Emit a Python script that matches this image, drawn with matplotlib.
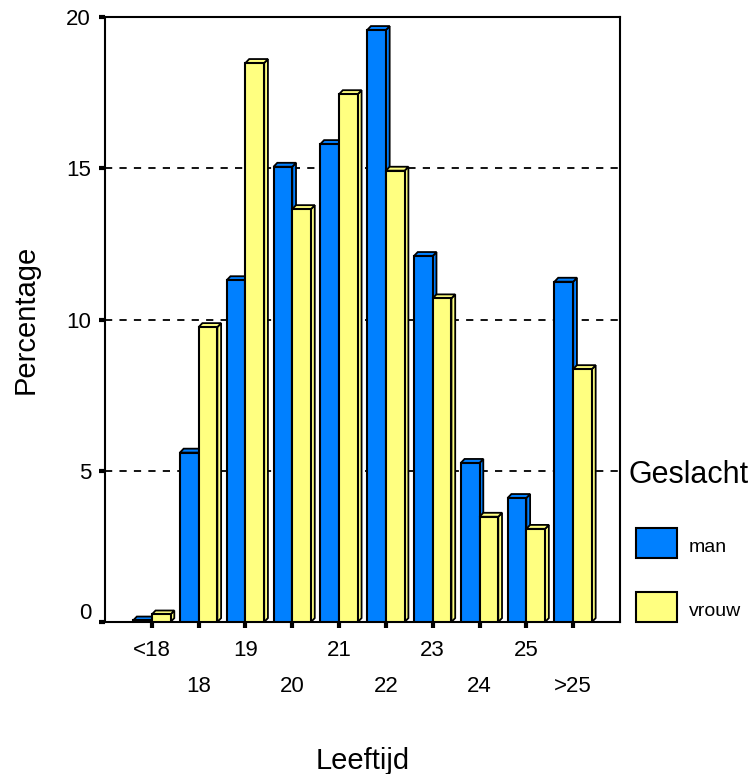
import matplotlib
matplotlib.use("Agg")
from matplotlib import pyplot as plt
from matplotlib.patches import Polygon, Rectangle
from matplotlib.transforms import ScaledTranslation

plt.rcParams['font.family'] = ['Liberation Sans', 'DejaVu Sans']

# données (pourcentages)
leeftijd = ["<18", "18", "19", "20", "21", "22", "23", "24", "25", ">25"]
man = [0.05, 5.6, 11.3, 15.05, 15.8, 19.57, 12.1, 5.26, 4.1, 11.25]
vrouw = [0.25, 9.75, 18.48, 13.65, 17.45, 14.92, 10.7, 3.48, 3.08, 8.36]

kleur_man = "#0080ff"
kleur_vrouw = "#ffff80"

fig = plt.figure(figsize=(7.56, 7.74), dpi=100)
ax = fig.add_axes([105/756, 1 - 622/774, 515/756, 605/774])
ax.set_xlim(0, 11)
ax.set_ylim(0, 20)

breedte = 0.4
dx = 0.08   # profondeur 3D en x
dy = 0.13   # profondeur 3D en y


def balk_3d(x0, h, kleur, z):
    # face du dessus et face de côté, puis face avant
    boven = Polygon([(x0, h), (x0 + dx, h + dy), (x0 + breedte + dx, h + dy), (x0 + breedte, h)],
                    closed=True, facecolor=kleur, edgecolor="black", linewidth=1.3, zorder=z)
    zijkant = Polygon([(x0 + breedte, 0), (x0 + breedte + dx, dy), (x0 + breedte + dx, h + dy), (x0 + breedte, h)],
                      closed=True, facecolor=kleur, edgecolor="black", linewidth=1.3, zorder=z)
    voor = Rectangle((x0, 0), breedte, h, facecolor=kleur, edgecolor="black", linewidth=1.5, zorder=z + 0.5)
    ax.add_patch(zijkant)
    ax.add_patch(boven)
    ax.add_patch(voor)


for i in range(len(leeftijd)):
    xc = i + 1
    balk_3d(xc - breedte, man[i], kleur_man, 3 + 2 * i)
    balk_3d(xc, vrouw[i], kleur_vrouw, 4 + 2 * i)

# lignes horizontales en pointillés
for yy in [5, 10, 15]:
    ax.axhline(yy, color="black", linestyle=(0, (4, 4)), linewidth=1.3, zorder=1)

for s in ax.spines.values():
    s.set_linewidth(1.5)

ax.set_yticks([0, 5, 10, 15, 20])
ax.set_yticklabels(["0", "5", "10", "15", "20"], fontsize=16)
ax.tick_params(axis="y", length=4, width=3, pad=6)
# le "0" est un peu plus haut que sa graduation
lab0 = ax.get_yticklabels()[0]
lab0.set_transform(lab0.get_transform() + ScaledTranslation(0, 0.11, fig.dpi_scale_trans))

# étiquettes de l'axe x sur deux rangées
posities = list(range(1, len(leeftijd) + 1))
ax.set_xticks(posities[0::2])
ax.set_xticklabels(leeftijd[0::2], fontsize=16)
ax.set_xticks(posities[1::2], minor=True)
ax.set_xticklabels(leeftijd[1::2], minor=True, fontsize=16)
ax.tick_params(axis="x", which="major", length=4, width=3, pad=9)
ax.tick_params(axis="x", which="minor", length=4, width=3, pad=35)

ax.set_xlabel("Leeftijd", fontsize=21, labelpad=36)
ax.set_ylabel("Percentage", fontsize=21, labelpad=19)

# légende faite à la main
fig.text(629/756, 1 - 475/774, "Geslacht", fontsize=22, va="center", ha="left")
fig.add_artist(Rectangle((636/756, 1 - 558/774), 41/756, 30/774, transform=fig.transFigure,
                         facecolor=kleur_man, edgecolor="black", linewidth=1.5))
fig.add_artist(Rectangle((636/756, 1 - 622/774), 41/756, 30/774, transform=fig.transFigure,
                         facecolor=kleur_vrouw, edgecolor="black", linewidth=1.5))
fig.text(689/756, 1 - 548/774, "man", fontsize=14, va="center", ha="left")
fig.text(689/756, 1 - 611/774, "vrouw", fontsize=14, va="center", ha="left")

fig.savefig("out.png", dpi=100)
